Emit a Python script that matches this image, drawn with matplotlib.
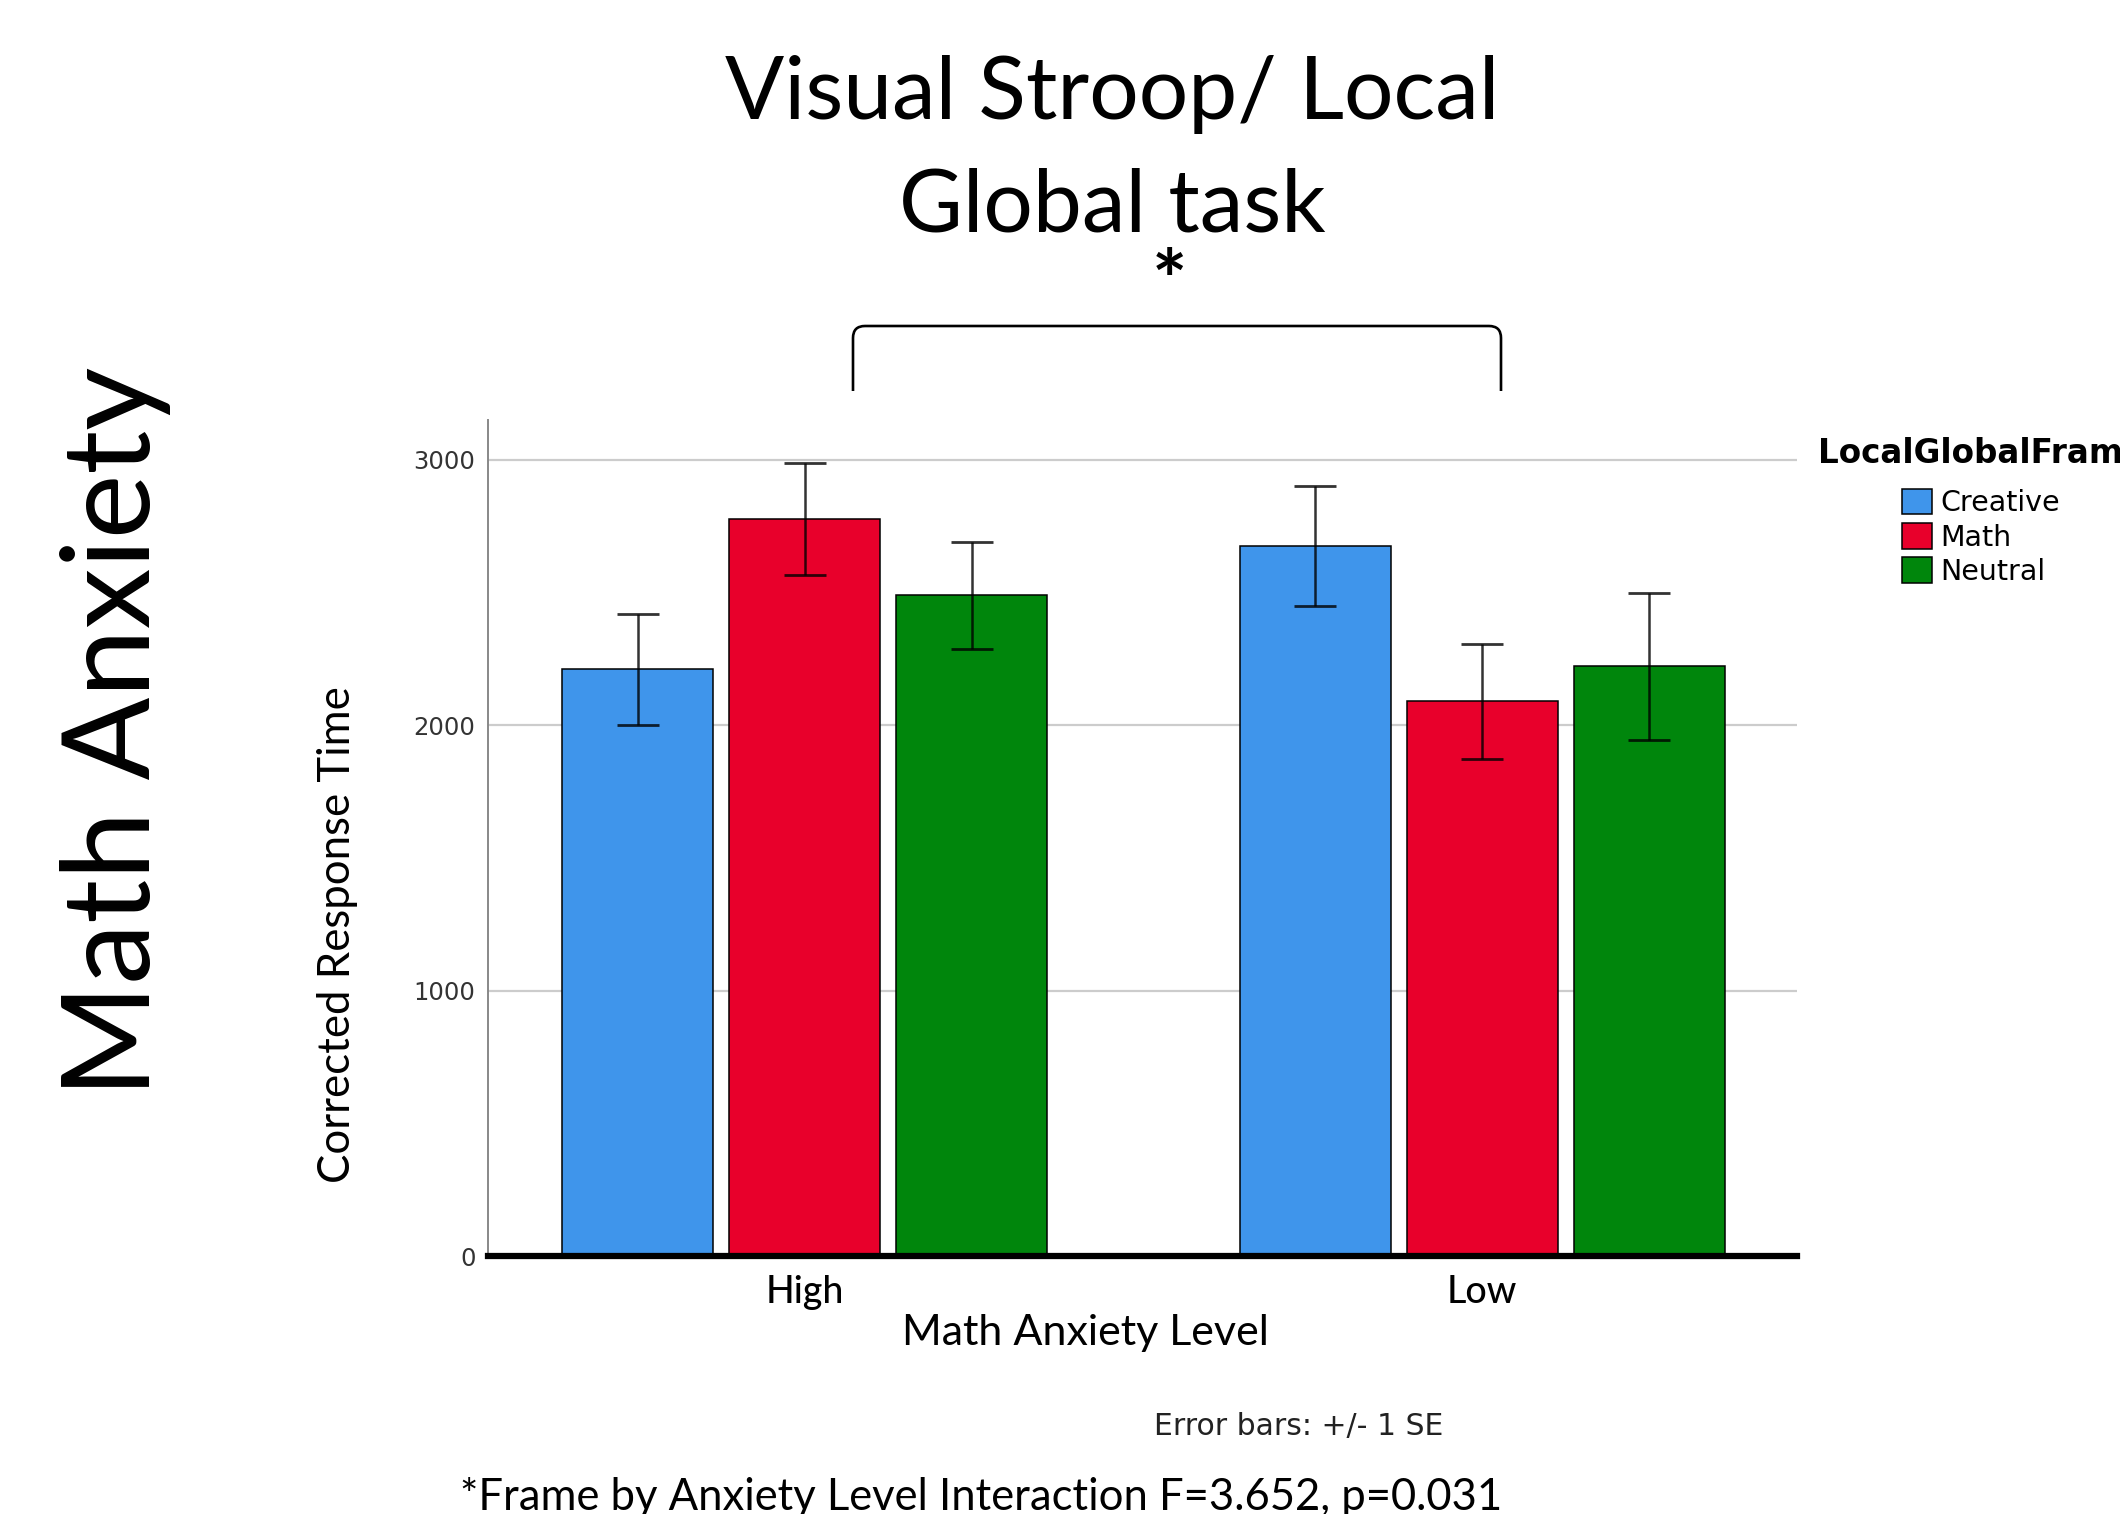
import matplotlib
matplotlib.use("Agg")
import matplotlib.pyplot as plt
import numpy as np
from matplotlib.path import Path
from matplotlib.patches import PathPatch

# mean corrected response time (ms) and standard error per frame
anxiety_levels = ['High', 'Low']
frames = ['Creative', 'Math', 'Neutral']
creative_rt = [2211, 2675]
math_rt = [2776, 2090]
neutral_rt = [2488, 2221]
creative_se = [209, 226]
math_se = [210, 217]
neutral_se = [201, 277]
y_ticks = [0, 1000, 2000, 3000]

W, H = 2120, 1514
plt.rcParams['font.family'] = ['Lato', 'DejaVu Sans']


def fx(px):
    return px / W


def fy(py):
    return 1 - py / H


fig = plt.figure(figsize=(W / 100, H / 100), dpi=100)
fig.patch.set_facecolor('white')

ax = fig.add_axes([fx(488), fy(1256), fx(1797) - fx(488), fy(420) - fy(1256)])

colors = ['#3f95eb', '#e8002b', '#00860c']
means = [creative_rt, math_rt, neutral_rt]
errs = [creative_se, math_se, neutral_se]
x = np.arange(len(anxiety_levels))
step = 0.2466
width = 0.223

bars = []
for i in range(len(frames)):
    pos = x + (i - 1) * step
    b = ax.bar(pos, means[i], width, color=colors[i], edgecolor='black',
               linewidth=1.1, zorder=2, label=frames[i])
    bars.append(b)
    ax.errorbar(pos, means[i], yerr=errs[i], fmt='none', ecolor='black',
                alpha=0.8, elinewidth=1.8, capsize=15, capthick=2.0, zorder=3)

ax.set_xlim(-0.468, 1.465)
ax.set_ylim(0, 3149)
ax.set_yticks(y_ticks)
ax.set_yticklabels([str(t) for t in y_ticks], fontfamily='DejaVu Sans',
                   fontsize=17.5, color='#333333')
ax.set_xticks(x)
ax.set_xticklabels(anxiety_levels, fontsize=27, fontweight='medium')
ax.tick_params(axis='y', length=0, pad=9)
ax.tick_params(axis='x', length=0, pad=14)

ax.yaxis.grid(True, color='#cccccc', linewidth=1.6, zorder=0)
ax.set_axisbelow(True)
ax.spines['top'].set_visible(False)
ax.spines['right'].set_visible(False)
ax.spines['left'].set_color('#888888')
ax.spines['left'].set_linewidth(1.4)
ax.spines['bottom'].set_color('black')
ax.spines['bottom'].set_linewidth(4.5)
ax.spines['bottom'].set_zorder(4)

# axis titles
fig.text(fx(338), fy(935), 'Corrected Response Time', rotation=90,
         ha='center', va='center', fontsize=31.5)
fig.text(fx(1085), fy(1345), 'Math Anxiety Level', ha='center',
         va='baseline', fontsize=31)

# slide title and side heading
fig.text(fx(1112), fy(119), 'Visual Stroop/ Local', ha='center',
         va='baseline', fontsize=63)
fig.text(fx(1112), fy(232), 'Global task', ha='center', va='baseline',
         fontsize=63)
fig.text(fx(116), fy(732), 'Math Anxiety', rotation=90, ha='center',
         va='center', fontsize=88)

# significance bracket between the two anxiety levels
r = 12
verts = [(853, 391), (853, 326 + r), (853, 326), (853 + r, 326),
         (1501 - r, 326), (1501, 326), (1501, 326 + r), (1501, 391)]
codes = [Path.MOVETO, Path.LINETO, Path.CURVE3, Path.CURVE3,
         Path.LINETO, Path.CURVE3, Path.CURVE3, Path.LINETO]
bracket = Path([(fx(a), fy(b)) for a, b in verts], codes)
fig.patches.append(PathPatch(bracket, transform=fig.transFigure,
                             facecolor='none', edgecolor='black',
                             linewidth=1.9))
fig.text(fx(1169), fy(310), '*', ha='center', va='baseline', fontsize=60,
         fontweight='bold')

# legend
fig.text(fx(1818), fy(463), 'LocalGlobalFram', ha='left', va='baseline',
         fontfamily='DejaVu Sans', fontweight='bold', fontsize=23.5)
fig.legend(handles=bars, labels=frames, loc='upper left',
           bbox_to_anchor=(fx(1902), fy(489)), frameon=False,
           borderpad=0, borderaxespad=0, handlelength=1.05,
           handleheight=1.0, handletextpad=0.3, labelspacing=0.2,
           prop={'family': 'DejaVu Sans', 'size': 20.5})

# notes under the chart
fig.text(fx(1154), fy(1435), 'Error bars: +/- 1 SE', ha='left',
         va='baseline', fontfamily='DejaVu Sans', fontsize=21.5,
         color='#222222')
fig.text(fx(460), fy(1510), '*Frame by Anxiety Level Interaction F=3.652, p=0.031',
         ha='left', va='baseline', fontsize=31.4)

fig.savefig('out.png', dpi=100)
